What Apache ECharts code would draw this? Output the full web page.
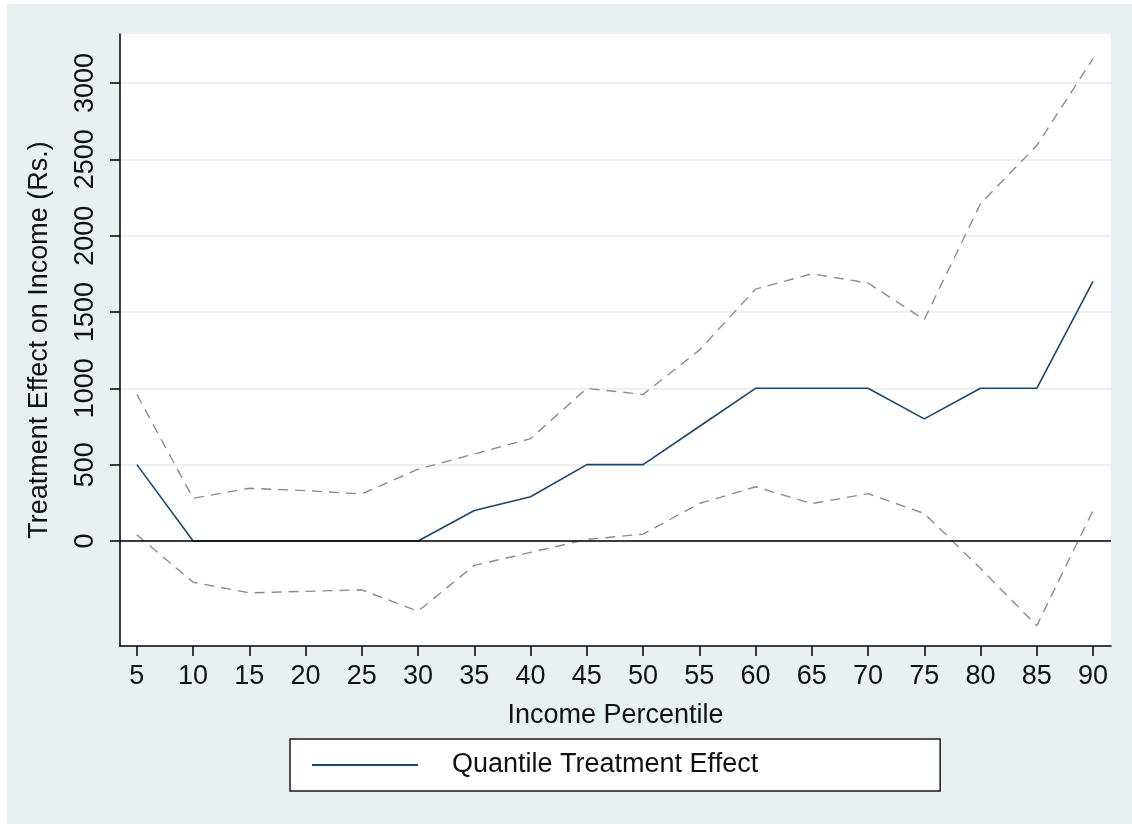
<!DOCTYPE html>
<html>
<head>
<meta charset="utf-8">
<script src="https://cdn.jsdelivr.net/npm/echarts@6.0.0/dist/echarts.min.js"></script>
<style>
  html, body { margin: 0; padding: 0; background: #ffffff; }
  #chart { width: 1132px; height: 824px; }
</style>
</head>
<body>
<div id="chart"></div>
<script>
// ---- Data ----
const percentiles = [5, 10, 15, 20, 25, 30, 35, 40, 45, 50, 55, 60, 65, 70, 75, 80, 85, 90];
const qte   = [500, 0, 0, 0, 0, 0, 200, 290, 500, 500, 750, 1000, 1000, 1000, 800, 1000, 1000, 1700];
const upper = [960, 280, 345, 330, 308, 470, 570, 670, 1000, 960, 1250, 1650, 1750, 1690, 1450, 2210, 2590, 3160];
const lower = [40, -270, -340, -330, -320, -460, -160, -75, 10, 45, 245, 355, 245, 310, 180, -180, -555, 200];
const xTicks = [5, 10, 15, 20, 25, 30, 35, 40, 45, 50, 55, 60, 65, 70, 75, 80, 85, 90];
const yTicks = [0, 500, 1000, 1500, 2000, 2500, 3000];
const legendLabel = 'Quantile Treatment Effect';
const xTitle = 'Income Percentile';
const yTitle = 'Treatment Effect on Income (Rs.)';

const pair = (xs, ys) => xs.map((x, i) => [x, ys[i]]);
const FONT = "'Liberation Sans', Arial, sans-serif";
const TXT = '#111111';

const chart = echarts.init(document.getElementById('chart'), null, { renderer: 'canvas' });
chart.setOption({
  animation: false,
  backgroundColor: 'transparent',
  graphic: [{
    type: 'rect', z: -10, silent: true,
    shape: { x: 7, y: 4, width: 1125, height: 820 },
    style: { fill: '#e8f0f2' }
  }],
  grid: {
    left: 120, right: 21, top: 34, bottom: 178,
    show: true, backgroundColor: '#ffffff', borderWidth: 0
  },
  legend: {
    show: true,
    data: [{ name: legendLabel, icon: 'rect' }],
    left: 290, top: 739,
    orient: 'horizontal',
    itemWidth: 106, itemHeight: 2,
    padding: [12, 182, 12, 22],
    backgroundColor: '#ffffff',
    borderColor: '#1a1a1a', borderWidth: 1.5,
    textStyle: { fontFamily: FONT, fontSize: 27, color: TXT, lineHeight: 28, padding: [0, 0, 0, 29] }
  },
  xAxis: {
    type: 'value', min: 3.5, max: 91.6,
    name: xTitle, nameLocation: 'middle', nameGap: 56,
    nameTextStyle: { fontFamily: FONT, fontSize: 27, color: TXT },
    axisLine: { show: true, onZero: false, lineStyle: { color: '#000', width: 1.5 } },
    axisTick: { show: true, customValues: xTicks, length: 10, lineStyle: { color: '#000', width: 1.5 } },
    axisLabel: { customValues: xTicks, margin: 17, fontFamily: FONT, fontSize: 27, color: TXT,
                 formatter: v => String(v) },
    splitLine: { show: false }
  },
  yAxis: {
    type: 'value', min: -688, max: 3321,
    name: yTitle, nameLocation: 'middle', nameGap: 67, nameRotate: 90,
    nameTextStyle: { fontFamily: FONT, fontSize: 27, color: TXT },
    axisLine: { show: true, lineStyle: { color: '#000', width: 1.5 } },
    axisTick: { show: true, customValues: yTicks, length: 10, lineStyle: { color: '#000', width: 1.5 } },
    axisLabel: { customValues: yTicks, rotate: 90, margin: 21, fontFamily: FONT, fontSize: 27, color: TXT,
                 formatter: v => String(v) },
    splitLine: { show: true, lineStyle: { color: '#e2ecef', width: 1.5 } }
  },
  series: [
    {
      name: 'Upper', type: 'line', data: pair(percentiles, upper),
      symbol: 'none', silent: true,
      lineStyle: { color: '#8c8c8c', width: 1.4, type: [10, 7] }, z: 2
    },
    {
      name: 'Lower', type: 'line', data: pair(percentiles, lower),
      symbol: 'none', silent: true,
      lineStyle: { color: '#8c8c8c', width: 1.4, type: [10, 7] }, z: 2
    },
    {
      name: legendLabel, type: 'line', data: pair(percentiles, qte),
      symbol: 'none', silent: true,
      itemStyle: { color: '#1a476f' },
      lineStyle: { color: '#1a476f', width: 1.6 }, z: 3,
      markLine: {
        silent: true, symbol: ['none', 'none'], label: { show: false },
        lineStyle: { color: '#000', width: 1.5, type: 'solid' },
        data: [{ yAxis: 0 }]
      }
    }
  ]
});
</script>
</body>
</html>
